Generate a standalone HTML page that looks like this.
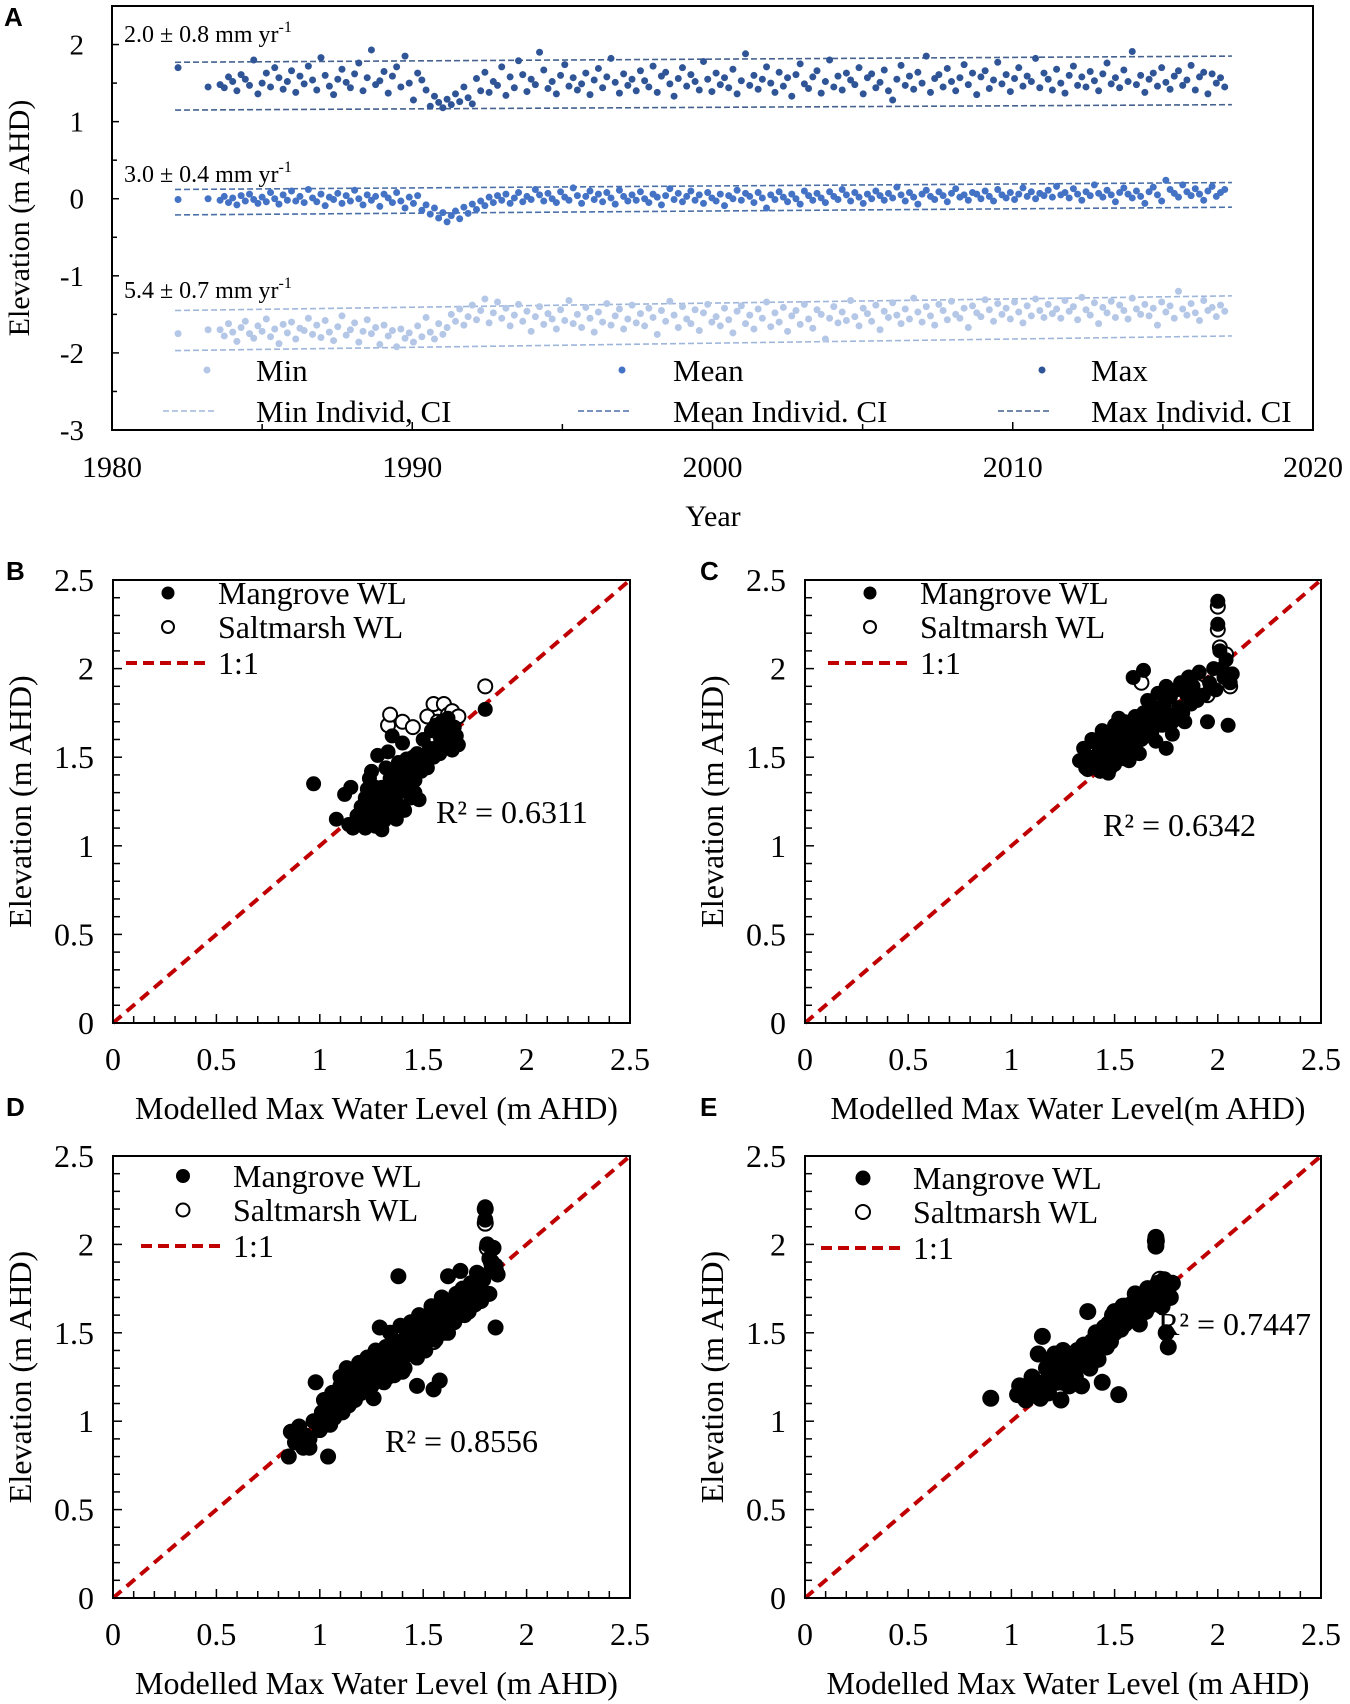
<!DOCTYPE html>
<html><head><meta charset="utf-8">
<style>
html,body{margin:0;padding:0;background:#fff;}
svg{display:block;font-family:"Liberation Serif",serif;}
.lbl{font-family:"Liberation Sans",sans-serif;font-weight:bold;font-size:26px;}
</style></head>
<body>
<svg id="fig" width="1350" height="1704" viewBox="0 0 1350 1704" xmlns="http://www.w3.org/2000/svg"></svg>
<script>
// ---------- Panel A data ----------
const aStartYear = 1983.6;
const aStep = 0.14;
const aEarlyYears = [1982.2, 1983.2];
const aEarlyMax = [1.70, 1.45];
const aEarlyMean = [-0.01, 0.0];
const aEarlyMin = [-1.75, -1.70];
// max: value = 1 + v/100
const aMaxCm = [48,44,58,52,40,61,55,47,80,36,50,63,45,70,57,42,52,66,38,59,
49,72,54,41,83,60,46,35,55,68,51,44,62,76,40,57,93,48,53,65,
37,59,71,45,85,50,28,63,54,41,20,33,25,18,29,22,36,26,45,31,
23,56,40,64,38,52,47,71,34,58,44,79,61,39,55,48,90,67,43,52,
36,60,74,46,57,41,49,63,35,54,69,44,58,82,51,37,62,47,55,40,
66,53,45,72,38,59,64,49,33,56,70,46,61,52,41,78,55,39,63,48,
57,44,68,36,53,88,47,60,42,55,71,50,38,64,46,57,33,61,75,49,
43,58,66,37,52,80,45,59,41,63,54,48,70,36,57,62,44,51,67,40,
28,55,73,47,59,42,64,50,85,38,56,61,45,69,52,40,57,74,48,63,
35,58,66,43,54,77,49,61,39,56,70,46,59,52,82,44,63,55,41,68,
50,37,60,72,47,58,45,65,53,40,62,76,49,57,44,67,52,91,48,60,
38,55,63,46,70,51,42,59,66,47,54,73,41,58,64,36,62,50,57,45];
// mean: value = v/100
const aMeanCm = [-2,3,-5,1,-8,4,-3,6,-1,-6,2,-4,8,0,-7,5,-2,10,-3,3,
-5,12,1,-4,6,-9,2,-1,7,-6,4,-3,11,0,-8,5,-2,3,-10,6,
1,-5,8,-3,-12,2,-6,4,-15,-8,-20,-12,-25,-18,-30,-22,-16,-26,-11,-19,
-7,-14,-3,-9,2,-5,4,-2,6,-6,1,8,-4,3,-1,12,5,-3,7,0,
-5,9,2,-2,14,4,-6,3,10,-1,6,-4,8,1,-7,11,3,-3,5,-2,
9,0,-5,6,2,-8,4,13,-1,7,-4,3,10,-2,5,-6,8,1,-3,6,
-9,4,0,11,-2,7,3,-5,8,1,-12,5,-1,9,2,-4,6,0,-7,10,
4,-2,7,1,-5,9,3,-1,12,5,-3,8,2,-6,6,0,10,4,-2,7,
1,15,5,-3,8,2,-7,6,11,3,-1,9,4,-4,7,13,2,5,-2,8,
6,0,10,3,-3,12,5,1,8,-1,6,14,3,9,0,7,4,11,2,16,
5,8,1,13,6,-2,9,4,18,7,2,11,5,-4,8,14,6,1,10,3,
-6,9,15,5,-3,24,12,7,2,18,9,4,13,6,-2,10,16,3,8,12];
// min: value = -2 + v/100
const aMinCm = [30,22,38,27,15,33,41,25,19,35,28,44,21,31,12,37,26,40,18,32,
29,45,24,36,20,42,27,16,34,48,23,30,39,14,28,43,25,33,11,36,
22,29,8,31,19,26,14,35,21,46,27,18,38,24,33,50,41,57,36,47,
62,43,55,70,39,52,66,45,58,35,49,63,41,54,28,47,60,37,51,44,
31,56,42,68,38,50,33,59,45,27,53,40,64,36,48,57,31,44,62,39,
51,35,58,46,24,55,41,67,49,33,60,44,38,56,29,52,63,40,47,35,
58,43,26,54,61,38,49,31,57,45,66,34,52,40,59,28,48,55,37,63,
44,32,56,50,18,45,60,39,53,42,68,47,35,58,51,41,62,30,54,46,
65,49,38,57,44,71,53,40,60,48,36,63,55,43,67,50,45,58,33,61,
52,47,69,56,41,64,50,58,44,66,53,39,61,48,70,55,46,63,51,57,
45,68,54,60,43,72,56,49,65,38,59,52,67,46,62,55,44,71,57,50,
63,48,58,36,66,53,61,45,80,57,49,64,52,42,68,55,59,47,62,54];
// CI lines: [y at start, y at end]
const aCIYears = [1982.1, 2017.3];
const aMaxUpper = [1.77, 1.85], aMaxLower = [1.15, 1.22];
const aMeanUpper = [0.12, 0.21], aMeanLower = [-0.21, -0.11];
const aMinUpper = [-1.45, -1.26], aMinLower = [-1.97, -1.78];
const aYTicks = [2, 1, 0, -1, -2, -3];
const aXTicks = [1980, 1990, 2000, 2010, 2020];

// ---------- Scatter data ----------
const bMangrove = [[0.97,1.35],[1.08,1.15],[1.12,1.29],[1.15,1.33],[1.14,1.12],[1.16,1.1],[1.18,1.17],[1.2,1.22],[1.21,1.13],[1.22,1.27],[1.23,1.19],[1.24,1.38],[1.24,1.25],[1.25,1.16],[1.25,1.42],[1.26,1.2],[1.26,1.3],[1.27,1.11],[1.27,1.24],[1.28,1.51],[1.28,1.18],[1.29,1.28],[1.29,1.22],[1.3,1.09],[1.3,1.33],[1.31,1.14],[1.31,1.26],[1.32,1.44],[1.32,1.2],[1.33,1.3],[1.33,1.53],[1.34,1.38],[1.34,1.24],[1.35,1.62],[1.35,1.33],[1.36,1.28],[1.36,1.4],[1.37,1.15],[1.37,1.35],[1.38,1.47],[1.38,1.3],[1.39,1.22],[1.39,1.42],[1.4,1.36],[1.4,1.58],[1.41,1.2],[1.41,1.45],[1.42,1.33],[1.42,1.49],[1.43,1.4],[1.44,1.27],[1.44,1.43],[1.45,1.5],[1.46,1.37],[1.47,1.46],[1.47,1.52],[1.48,1.26],[1.49,1.42],[1.5,1.48],[1.5,1.6],[1.52,1.44],[1.53,1.55],[1.54,1.65],[1.55,1.5],[1.56,1.68],[1.57,1.56],[1.58,1.62],[1.58,1.52],[1.59,1.7],[1.6,1.58],[1.61,1.66],[1.62,1.72],[1.63,1.6],[1.64,1.54],[1.65,1.67],[1.66,1.62],[1.67,1.57],[1.8,1.77],[1.2,1.15],[1.22,1.1],[1.25,1.22],[1.28,1.13],[1.3,1.2],[1.33,1.18],[1.35,1.25],[1.27,1.33],[1.23,1.32],[1.36,1.22],[1.43,1.35],[1.46,1.3],[1.38,1.23]];
const bSaltmarsh = [[1.33,1.68],[1.34,1.74],[1.4,1.7],[1.45,1.67],[1.52,1.73],[1.55,1.8],[1.57,1.7],[1.6,1.8],[1.62,1.74],[1.64,1.76],[1.67,1.73],[1.8,1.9],[1.58,1.65],[1.61,1.69]];
const cMangrove = [[1.33,1.48],[1.35,1.55],[1.37,1.43],[1.38,1.5],[1.4,1.45],[1.41,1.58],[1.42,1.52],[1.43,1.42],[1.44,1.47],[1.45,1.55],[1.46,1.63],[1.47,1.41],[1.48,1.5],[1.49,1.57],[1.5,1.46],[1.5,1.68],[1.51,1.6],[1.52,1.53],[1.53,1.64],[1.54,1.58],[1.55,1.49],[1.55,1.7],[1.56,1.62],[1.57,1.55],[1.58,1.66],[1.59,1.61],[1.6,1.73],[1.6,1.57],[1.61,1.65],[1.62,1.69],[1.63,1.6],[1.59,1.95],[1.64,1.75],[1.65,1.67],[1.66,1.82],[1.67,1.72],[1.68,1.64],[1.69,1.78],[1.7,1.7],[1.71,1.86],[1.72,1.76],[1.73,1.68],[1.74,1.8],[1.75,1.55],[1.75,1.9],[1.76,1.74],[1.77,1.84],[1.78,1.7],[1.8,1.88],[1.81,1.78],[1.82,1.92],[1.83,1.75],[1.85,1.85],[1.86,1.95],[1.87,1.8],[1.88,1.9],[1.9,1.82],[1.91,1.98],[1.93,1.85],[1.95,1.7],[1.96,1.92],[1.98,2.0],[1.99,1.88],[2.0,2.38],[2.0,2.25],[2.01,2.1],[2.02,2.0],[2.03,1.95],[2.04,2.05],[2.05,1.68],[2.06,1.92],[2.07,1.97],[1.64,1.99],[1.39,1.6],[1.36,1.44],[1.48,1.44],[1.52,1.72],[1.44,1.65],[1.57,1.48],[1.66,1.62],[1.7,1.59],[1.78,1.63],[1.84,1.7],[1.62,1.52]];
const cSaltmarsh = [[1.63,1.92],[1.86,1.95],[1.9,1.9],[2.0,2.35],[2.0,2.22],[2.01,2.12],[2.04,2.08],[2.05,1.95],[2.06,1.9],[1.95,1.85]];
const dMangrove = [[0.85,0.8],[0.86,0.94],[0.88,0.88],[0.9,0.97],[0.92,0.85],[0.93,0.92],[0.95,0.9],[0.97,1.0],[0.98,1.22],[1.0,0.95],[1.01,1.05],[1.02,1.12],[1.03,0.98],[1.04,0.8],[1.05,1.08],[1.06,1.16],[1.07,1.02],[1.08,1.1],[1.1,1.2],[1.11,1.05],[1.12,1.14],[1.13,1.3],[1.14,1.09],[1.15,1.18],[1.16,1.25],[1.17,1.12],[1.18,1.22],[1.19,1.33],[1.2,1.16],[1.21,1.27],[1.22,1.2],[1.23,1.36],[1.24,1.24],[1.25,1.3],[1.26,1.13],[1.27,1.4],[1.28,1.28],[1.29,1.53],[1.3,1.34],[1.31,1.22],[1.32,1.42],[1.33,1.3],[1.34,1.5],[1.35,1.38],[1.36,1.26],[1.37,1.45],[1.38,1.35],[1.39,1.54],[1.4,1.42],[1.41,1.3],[1.42,1.48],[1.43,1.38],[1.44,1.56],[1.45,1.44],[1.46,1.5],[1.47,1.36],[1.48,1.6],[1.49,1.46],[1.5,1.52],[1.51,1.4],[1.52,1.58],[1.53,1.5],[1.54,1.65],[1.55,1.55],[1.56,1.46],[1.57,1.6],[1.58,1.52],[1.59,1.7],[1.6,1.57],[1.61,1.63],[1.62,1.5],[1.63,1.68],[1.64,1.6],[1.65,1.56],[1.66,1.72],[1.67,1.64],[1.68,1.6],[1.69,1.75],[1.7,1.68],[1.72,1.62],[1.73,1.78],[1.74,1.7],[1.75,1.66],[1.76,1.84],[1.77,1.74],[1.78,1.68],[1.79,1.8],[1.8,2.21],[1.8,2.14],[1.81,2.0],[1.82,1.92],[1.83,1.86],[1.84,1.98],[1.85,1.88],[1.86,1.83],[1.85,1.53],[1.82,1.72],[1.38,1.82],[1.62,1.82],[1.68,1.85],[1.58,1.23],[1.47,1.2],[1.55,1.18],[1.2,1.3],[1.28,1.35],[1.1,1.25],[1.33,1.25],[1.4,1.28],[1.5,1.45],[1.45,1.38],[1.35,1.3],[1.25,1.2],[1.15,1.12],[1.05,0.98],[0.95,0.85],[1.3,1.28],[1.52,1.47],[1.6,1.62],[1.43,1.45],[1.36,1.4],[1.6,1.5],[1.7,1.6],[1.12,1.08]];
const dSaltmarsh = [[1.8,2.2],[1.8,2.12],[1.81,1.98],[1.83,1.9],[1.85,1.85],[1.6,1.55],[1.52,1.5],[1.45,1.42],[1.4,1.4],[1.3,1.32],[1.55,1.45],[1.65,1.58],[1.7,1.65],[1.76,1.7],[1.2,1.2]];
const eMangrove = [[0.9,1.13],[1.03,1.15],[1.04,1.2],[1.05,1.17],[1.07,1.12],[1.08,1.18],[1.1,1.15],[1.1,1.25],[1.12,1.2],[1.13,1.38],[1.14,1.13],[1.15,1.48],[1.16,1.22],[1.17,1.3],[1.18,1.16],[1.19,1.35],[1.2,1.26],[1.21,1.38],[1.22,1.22],[1.23,1.32],[1.24,1.12],[1.25,1.4],[1.26,1.28],[1.27,1.35],[1.28,1.2],[1.29,1.3],[1.3,1.38],[1.31,1.25],[1.32,1.4],[1.33,1.33],[1.34,1.2],[1.35,1.43],[1.36,1.36],[1.37,1.62],[1.38,1.3],[1.39,1.45],[1.4,1.4],[1.41,1.5],[1.42,1.35],[1.43,1.48],[1.44,1.22],[1.45,1.53],[1.46,1.42],[1.47,1.55],[1.48,1.45],[1.49,1.6],[1.5,1.5],[1.51,1.57],[1.52,1.15],[1.53,1.52],[1.54,1.65],[1.55,1.55],[1.56,1.62],[1.57,1.58],[1.58,1.66],[1.6,1.6],[1.61,1.68],[1.62,1.55],[1.63,1.7],[1.65,1.62],[1.66,1.75],[1.68,1.66],[1.7,2.04],[1.7,1.99],[1.71,1.78],[1.72,1.72],[1.73,1.65],[1.74,1.8],[1.75,1.5],[1.76,1.42],[1.77,1.7],[1.78,1.78],[1.22,1.3],[1.3,1.3],[1.35,1.32],[1.4,1.45],[1.5,1.62],[1.55,1.65],[1.45,1.45],[1.25,1.22],[1.15,1.2],[1.6,1.72],[1.65,1.68]];
const eSaltmarsh = [[1.7,2.02],[1.72,1.8],[1.5,1.55]];
const sTicks = [0, 0.5, 1, 1.5, 2, 2.5];
const sTickLabels = ['0','0.5','1','1.5','2','2.5'];

const NS = 'http://www.w3.org/2000/svg';
const svg = document.getElementById('fig');
function mk(tag, attrs, parent) {
  const e = document.createElementNS(NS, tag);
  for (const k in attrs) e.setAttribute(k, attrs[k]);
  (parent || svg).appendChild(e);
  return e;
}
function txt(s, attrs, parent) { const t = mk('text', attrs, parent); t.textContent = s; return t; }

// ================= Panel A =================
const A = {l:112, r:1313, t:6, b:430, x0:1980, x1:2020, y0:-3, y1:2.5};
const ax = v => A.l + (v - A.x0) / (A.x1 - A.x0) * (A.r - A.l);
const ay = v => A.b - (v - A.y0) / (A.y1 - A.y0) * (A.b - A.t);
const gA = mk('g', {});


const la = txt('A', {x:4, y:26, class:'lbl'}, gA);



function ciLine(vals, color, name) {
  const l = mk('line', {x1:ax(aCIYears[0]), y1:ay(vals[0]), x2:ax(aCIYears[1]), y2:ay(vals[1]), stroke:color, 'stroke-width':1.6, 'stroke-dasharray':'6,3'}, gA);
  
  
}
const cMax = '#2f5597', cMean = '#4472c4', cMin = '#b4c7e7';
const dMax = '#44618f', dMean = '#4a6fa8', dMin = '#9fb6db';
ciLine(aMaxUpper, dMax, 'max-ci-upper'); ciLine(aMaxLower, dMax, 'max-ci-lower');
ciLine(aMeanUpper, dMean, 'mean-ci-upper'); ciLine(aMeanLower, dMean, 'mean-ci-lower');
ciLine(aMinUpper, dMin, 'min-ci-upper'); ciLine(aMinLower, dMin, 'min-ci-lower');

function series(arr, conv, early, color, name) {
  const g = mk('g', {fill:color}, gA);
  
  
  early.forEach((v, i) => {
    const c = mk('circle', {cx:ax(aEarlyYears[i]), cy:ay(v), r:3.5}, g);
    
    
  });
  arr.forEach((v, i) => {
    const c = mk('circle', {cx:ax(aStartYear + i * aStep), cy:ay(conv(v)), r:3.5}, g);
    
    
  });
}
series(aMinCm, v => -2 + v / 100, aEarlyMin, cMin, 'min-series');
series(aMeanCm, v => v / 100, aEarlyMean, cMean, 'mean-series');
series(aMaxCm, v => 1 + v / 100, aEarlyMax, cMax, 'max-series');

const fa = mk('rect', {x:A.l, y:A.t, width:A.r - A.l, height:A.b - A.t, fill:'none', stroke:'#000', 'stroke-width':2}, gA);


for (let v = -3; v <= 2.5; v += 0.5) {
  mk('line', {x1:A.l, x2:A.l + (Number.isInteger(v) ? 7 : 5), y1:ay(v), y2:ay(v), stroke:'#000', 'stroke-width':1.5}, gA);
}
for (let v = 1980; v <= 2020; v += 5) {
  mk('line', {x1:ax(v), x2:ax(v), y1:A.b, y2:A.b - (v % 10 === 0 ? 8 : 6), stroke:'#000', 'stroke-width':1.5}, gA);
}
aYTicks.forEach(v => {
  const t = txt(String(v), {x:A.l - 28, y:ay(v) + 10, 'font-size':29, 'text-anchor':'end'}, gA);
  
  
});
aXTicks.forEach(v => {
  const t = txt(String(v), {x:ax(v), y:477, 'font-size':30, 'text-anchor':'middle'}, gA);
  
  
});
const xta = txt('Year', {x:713, y:526, 'font-size':30, 'text-anchor':'middle'}, gA);


const yta = txt('Elevation (m AHD)', {x:0, y:0, 'font-size':30, 'text-anchor':'middle', transform:'translate(29,218) rotate(-90)'}, gA);


function rateLabel(x, y, s, name) {
  const t = txt('', {x:x, y:y, 'font-size':24}, gA);
  
  
  t.appendChild(document.createTextNode(s + ' mm yr'));
  const sp = document.createElementNS(NS, 'tspan');
  sp.setAttribute('font-size', '16'); sp.setAttribute('dy', '-10'); sp.textContent = '-1';
  t.appendChild(sp);
}
rateLabel(124, 42, '2.0 ± 0.8', 'rate-label-max');
rateLabel(124, 182, '3.0 ± 0.4', 'rate-label-mean');
rateLabel(124, 298, '5.4 ± 0.7', 'rate-label-min');
const legA = [['Min', cMin, dMin, 207, 256], ['Mean', cMean, dMean, 622, 673], ['Max', cMax, dMax, 1042, 1091]];
legA.forEach(([n, c, d, mx, tx]) => {
  const g = mk('g', {}, gA);
  
  
  mk('circle', {cx:mx, cy:370, r:3.5, fill:c}, g);
  txt(n, {x:tx, y:381, 'font-size':31}, g);
  const g2 = mk('g', {}, gA);
  
  
  mk('line', {x1:mx - 44, x2:mx + 8, y1:411, y2:411, stroke:d, 'stroke-width':1.6, 'stroke-dasharray':'6,3'}, g2);
  txt(n + ' Individ' + (n === 'Min' ? ', CI' : '. CI'), {x:tx, y:422, 'font-size':31}, g2);
});

// ================= Scatter panels =================
function scatter(cfg) {
  const {l, r, t, b, label, lx, ly, mang, salt, rad, r2, r2x, r2y, legX, legY, xTitle, name} = cfg;
  const sx = v => l + v / 2.5 * (r - l);
  const sy = v => b - v / 2.5 * (b - t);
  const g = mk('g', {});
  
  
  const pl = txt(label, {x:lx, y:ly, class:'lbl'}, g);
  
  
  const ol = mk('line', {x1:sx(0), y1:sy(0), x2:sx(2.5), y2:sy(2.5), stroke:'#c00000', 'stroke-width':4, 'stroke-dasharray':'11,7'}, g);
  
  
  const gs = mk('g', {fill:'#fff', stroke:'#000', 'stroke-width':2}, g);
  
  
  salt.forEach(p => {
    const c = mk('circle', {cx:sx(p[0]), cy:sy(p[1]), r:rad - 0.5}, gs);
    
    
  });
  const gm = mk('g', {fill:'#000'}, g);
  
  
  mang.forEach(p => {
    const c = mk('circle', {cx:sx(p[0]), cy:sy(p[1]), r:rad}, gm);
    
    
  });
  const fr = mk('rect', {x:l, y:t, width:r - l, height:b - t, fill:'none', stroke:'#000', 'stroke-width':2}, g);
  
  
  for (let i = 1; i < 25; i++) {
    const v = i / 10;
    const len = (i % 5 === 0) ? 9 : 7;
    mk('line', {x1:l, x2:l + len, y1:sy(v), y2:sy(v), stroke:'#000', 'stroke-width':1.5}, g);
    mk('line', {x1:sx(v), x2:sx(v), y1:b, y2:b - len, stroke:'#000', 'stroke-width':1.5}, g);
  }
  sTicks.forEach((v, i) => {
    const ty = txt(sTickLabels[i], {x:l - 19, y:sy(v) + 11, 'font-size':32, 'text-anchor':'end'}, g);
    
    
    const tx = txt(sTickLabels[i], {x:sx(v), y:b + 47, 'font-size':32, 'text-anchor':'middle'}, g);
    
    
  });
  const xt = txt(xTitle, {x:(l + r) / 2 + 5, y:b + 96, 'font-size':32, 'text-anchor':'middle'}, g);
  
  
  const yt = txt('Elevation (m AHD)', {x:0, y:0, 'font-size':32, 'text-anchor':'middle', transform:'translate(' + (l - 82) + ',' + ((t + b) / 2) + ') rotate(-90)'}, g);
  
  
  const rt = txt('R² = ' + r2, {x:r2x, y:r2y, 'font-size':32}, g);
  
  
  const g1 = mk('g', {}, g);
  
  
  mk('circle', {cx:legX, cy:legY, r:rad - 1, fill:'#000'}, g1);
  txt('Mangrove WL', {x:legX + 50, y:legY + 11, 'font-size':32}, g1);
  const g2 = mk('g', {}, g);
  
  
  mk('circle', {cx:legX, cy:legY + 34, r:rad - 1.5, fill:'#fff', stroke:'#000', 'stroke-width':2}, g2);
  txt('Saltmarsh WL', {x:legX + 50, y:legY + 45, 'font-size':32}, g2);
  const g3 = mk('g', {}, g);
  
  
  mk('line', {x1:legX - 42, x2:legX + 42, y1:legY + 70, y2:legY + 70, stroke:'#c00000', 'stroke-width':4, 'stroke-dasharray':'11,6'}, g3);
  txt('1:1', {x:legX + 50, y:legY + 81, 'font-size':32}, g3);
}
scatter({name:'panel-b', l:113, r:630, t:580, b:1023, label:'B', lx:6, ly:580, mang:bMangrove, salt:bSaltmarsh, rad:7.5, r2:'0.6311', r2x:436, r2y:823, legX:168, legY:593, xTitle:'Modelled Max Water Level (m AHD)'});
scatter({name:'panel-c', l:805, r:1321, t:580, b:1023, label:'C', lx:700, ly:580, mang:cMangrove, salt:cSaltmarsh, rad:7.5, r2:'0.6342', r2x:1103, r2y:836, legX:870, legY:593, xTitle:'Modelled Max Water Level(m AHD)'});
scatter({name:'panel-d', l:113, r:630, t:1156, b:1598, label:'D', lx:6, ly:1116, mang:dMangrove, salt:dSaltmarsh, rad:8, r2:'0.8556', r2x:385, r2y:1452, legX:183, legY:1176, xTitle:'Modelled Max Water Level (m AHD)'});
scatter({name:'panel-e', l:805, r:1321, t:1156, b:1598, label:'E', lx:700, ly:1116, mang:eMangrove, salt:eSaltmarsh, rad:8.5, r2:'0.7447', r2x:1158, r2y:1335, legX:863, legY:1178, xTitle:'Modelled Max Water Level (m AHD)'});
</script>
</body></html>
